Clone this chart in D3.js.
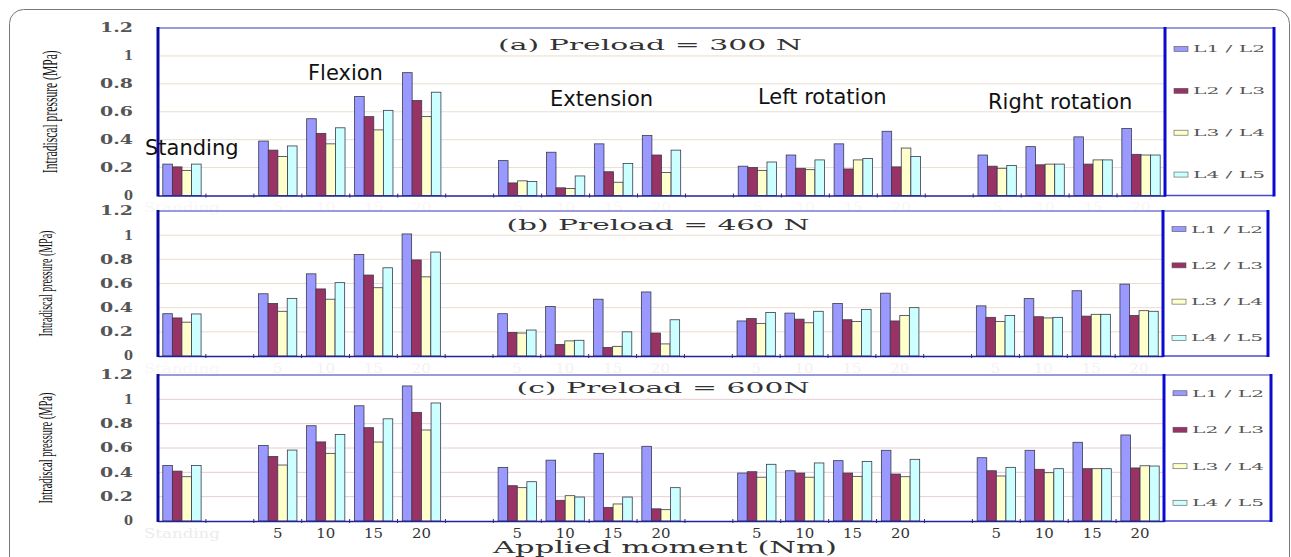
<!DOCTYPE html>
<html>
<head>
<meta charset="utf-8">
<script src="https://cdn.jsdelivr.net/npm/d3@7"></script>
<style>
  body { margin: 0; background: #fff; }
  svg { display: block; }
</style>
</head>
<body>
<div id="chart"></div>
<script>
// categories along the x axis ("" = empty slot between motions)
var categoryLabels = ["Standing", "", "5", "10", "15", "20", "", "5", "10", "15", "20", "", "5", "10", "15", "20", "", "5", "10", "15", "20"];
var seriesNames = ["L1 / L2", "L2 / L3", "L3 / L4", "L4 / L5"];
var seriesColors = ["#9999ff", "#993366", "#ffffcc", "#ccffff"];
var yTicks = [0, 0.2, 0.4, 0.6, 0.8, 1, 1.2];
var yTickLabels = ["0", "0.2", "0.4", "0.6", "0.8", "1", "1.2"];
var motionNames = ["Standing", "Flexion", "Extension", "Left rotation", "Right rotation"];

// (a) preload 300 N
var a_L1 = [0.225, null, 0.39, 0.55, 0.71, 0.88, null, 0.25, 0.31, 0.37, 0.43, null, 0.21, 0.29, 0.37, 0.46, null, 0.29, 0.35, 0.42, 0.48];
var a_L2 = [0.205, null, 0.325, 0.445, 0.565, 0.68, null, 0.09, 0.055, 0.17, 0.29, null, 0.20, 0.195, 0.19, 0.205, null, 0.21, 0.22, 0.225, 0.295];
var a_L3 = [0.18, null, 0.28, 0.37, 0.47, 0.565, null, 0.105, 0.05, 0.095, 0.165, null, 0.18, 0.185, 0.255, 0.34, null, 0.195, 0.225, 0.255, 0.29];
var a_L4 = [0.225, null, 0.355, 0.485, 0.61, 0.74, null, 0.10, 0.14, 0.23, 0.325, null, 0.24, 0.255, 0.265, 0.28, null, 0.215, 0.225, 0.255, 0.29];

// (b) preload 460 N
var b_L1 = [0.35, null, 0.515, 0.68, 0.84, 1.01, null, 0.35, 0.41, 0.47, 0.53, null, 0.29, 0.355, 0.435, 0.52, null, 0.415, 0.475, 0.54, 0.595];
var b_L2 = [0.315, null, 0.435, 0.555, 0.67, 0.795, null, 0.195, 0.095, 0.07, 0.19, null, 0.31, 0.305, 0.30, 0.29, null, 0.32, 0.325, 0.33, 0.335];
var b_L3 = [0.28, null, 0.37, 0.47, 0.565, 0.655, null, 0.19, 0.125, 0.08, 0.10, null, 0.27, 0.275, 0.285, 0.335, null, 0.285, 0.315, 0.345, 0.375];
var b_L4 = [0.348, null, 0.477, 0.607, 0.73, 0.86, null, 0.215, 0.13, 0.20, 0.30, null, 0.36, 0.37, 0.385, 0.40, null, 0.335, 0.32, 0.345, 0.37];

// (c) preload 600 N
var c_L1 = [0.457, null, 0.62, 0.783, 0.947, 1.11, null, 0.44, 0.50, 0.556, 0.614, null, 0.394, 0.413, 0.496, 0.581, null, 0.52, 0.581, 0.647, 0.707];
var c_L2 = [0.41, null, 0.53, 0.65, 0.767, 0.893, null, 0.29, 0.17, 0.112, 0.10, null, 0.405, 0.394, 0.394, 0.386, null, 0.413, 0.425, 0.43, 0.436];
var c_L3 = [0.364, null, 0.46, 0.556, 0.649, 0.748, null, 0.274, 0.208, 0.14, 0.093, null, 0.36, 0.36, 0.367, 0.364, null, 0.37, 0.397, 0.43, 0.454];
var c_L4 = [0.457, null, 0.583, 0.712, 0.84, 0.97, null, 0.323, 0.197, 0.197, 0.274, null, 0.466, 0.477, 0.49, 0.507, null, 0.441, 0.43, 0.43, 0.452];

var svgWidth = 1291, svgHeight = 557;

var svg = d3.select("#chart").append("svg")
  .attr("width", svgWidth)
  .attr("height", svgHeight);

svg.append("rect").attr("width", svgWidth).attr("height", svgHeight).attr("fill", "#fff");

// outer card with rounded corners
svg.append("rect")
  .attr("x", 9.5).attr("y", 9.5)
  .attr("width", 1280).attr("height", 620)
  .attr("rx", 14)
  .attr("fill", "none")
  .attr("stroke", "#777")
  .attr("stroke-width", 1);

// panel layout
var panels = [
  { series: [a_L1, a_L2, a_L3, a_L4], title: "(a) Preload = 300 N", top: 28, bottom: 195.5, right: 1165, legendRight: 1274,
    titleX: 650, titleY: 50, titleLen: 304, grid: "#eadfcf", labelX: 51, labelLen: 123, labelSize: 20, tickColor: "#f7f7f7", firstTickColor: "#f7f7f7" },
  { series: [b_L1, b_L2, b_L3, b_L4], title: "(b) Preload = 460 N", top: 211, bottom: 356, right: 1163, legendRight: 1268,
    titleX: 658, titleY: 230, titleLen: 303, grid: "#ecdccc", labelX: 46, labelLen: 106, labelSize: 19, tickColor: "#f2f2f2", firstTickColor: "#f7f7f7" },
  { series: [c_L1, c_L2, c_L3, c_L4], title: "(c) Preload = 600N", top: 375, bottom: 521, right: 1164, legendRight: 1271,
    titleX: 663, titleY: 393, titleLen: 293, grid: "#e8cdd3", labelX: 46, labelLen: 111, labelSize: 19, tickColor: "#333", firstTickColor: "#ececec" }
];

var left = 158;

panels.forEach(function(p) {
  var g = svg.append("g");
  var h = p.bottom - p.top;

  var xScale = d3.scaleBand()
    .domain(d3.range(categoryLabels.length))
    .range([left, p.right])
    .paddingInner(0.2)
    .paddingOuter(0.1);

  var xInner = d3.scaleBand()
    .domain(d3.range(seriesNames.length))
    .range([0, xScale.bandwidth()]);

  var yScale = d3.scaleLinear()
    .domain([0, 1.2])
    .range([p.bottom, p.top]);

  // gridlines
  g.append("g")
    .selectAll("line")
    .data(yTicks.slice(1, -1))
    .enter().append("line")
    .attr("x1", left).attr("x2", p.right)
    .attr("y1", d => yScale(d)).attr("y2", d => yScale(d))
    .attr("stroke", p.grid)
    .attr("stroke-width", 1);

  // y axis tick labels
  var yAxis = d3.axisLeft(yScale)
    .tickValues(yTicks)
    .tickFormat((d, i) => yTickLabels[i])
    .tickSize(0)
    .tickPadding(25);

  var yG = g.append("g")
    .attr("transform", `translate(${left}, 0)`)
    .call(yAxis);
  yG.select(".domain").remove();
  yG.selectAll("text")
    .attr("font-family", "DejaVu Serif")
    .attr("font-size", 12)
    .attr("font-weight", "bold")
    .attr("fill", "#555")
    .attr("textLength", (d, i) => yTickLabels[i].length === 1 ? 9 : 33)
    .attr("lengthAdjust", "spacingAndGlyphs");

  // bars
  p.series.forEach(function(values, s) {
    g.append("g")
      .selectAll("rect")
      .data(values.map((v, i) => ({ i: i, v: v })).filter(d => d.v !== null))
      .enter().append("rect")
      .attr("x", d => xScale(d.i) + xInner(s))
      .attr("y", d => yScale(d.v))
      .attr("width", xInner.bandwidth())
      .attr("height", d => p.bottom - yScale(d.v))
      .attr("fill", seriesColors[s])
      .attr("stroke", "#3a3a4a")
      .attr("stroke-width", 0.8);
  });

  // category boundary ticks
  g.append("g")
    .selectAll("line")
    .data(d3.range(1, categoryLabels.length))
    .enter().append("line")
    .attr("x1", d => left + d * xScale.step())
    .attr("x2", d => left + d * xScale.step())
    .attr("y1", p.bottom - 2).attr("y2", p.bottom + 2)
    .attr("stroke", "#333")
    .attr("stroke-width", 1);

  // x axis
  var xAxis = d3.axisBottom(xScale)
    .tickFormat(i => categoryLabels[i])
    .tickSize(0)
    .tickPadding(8);

  var xG = g.append("g")
    .attr("transform", `translate(0, ${p.bottom})`)
    .call(xAxis);
  xG.select(".domain")
    .attr("stroke", "#22229a")
    .attr("stroke-width", 1.6);
  xG.selectAll("text")
    .attr("font-family", "DejaVu Serif")
    .attr("font-size", 12)
    .attr("fill", (d, i) => i === 0 ? p.firstTickColor : p.tickColor)
    .attr("textLength", (d, i) => categoryLabels[i].length ? categoryLabels[i].length * 9.5 : null)
    .attr("lengthAdjust", "spacingAndGlyphs");

  // plot frame: thin top, thick left
  g.append("line")
    .attr("x1", left).attr("x2", p.legendRight)
    .attr("y1", p.top).attr("y2", p.top)
    .attr("stroke", "#7a7ad0").attr("stroke-width", 1.5);
  g.append("line")
    .attr("x1", left).attr("x2", left)
    .attr("y1", p.top - 1).attr("y2", p.bottom + 1)
    .attr("stroke", "#0a0aa0").attr("stroke-width", 3);

  // legend box
  g.append("line")
    .attr("x1", p.right).attr("x2", p.legendRight)
    .attr("y1", p.bottom).attr("y2", p.bottom)
    .attr("stroke", "#4848d0").attr("stroke-width", 1.5);
  g.append("line")
    .attr("x1", p.right).attr("x2", p.right)
    .attr("y1", p.top - 1).attr("y2", p.bottom + 1)
    .attr("stroke", "#0a0ad0").attr("stroke-width", 3);
  g.append("line")
    .attr("x1", p.legendRight).attr("x2", p.legendRight)
    .attr("y1", p.top - 1).attr("y2", p.bottom + 1)
    .attr("stroke", "#0a0ad0").attr("stroke-width", 3);

  var legend = g.append("g")
    .selectAll("g")
    .data(seriesNames)
    .enter().append("g")
    .attr("transform", (d, i) => `translate(${p.right + 9}, ${p.top + h * (i + 0.5) / 4})`);
  legend.append("rect")
    .attr("x", 0).attr("y", -2.5)
    .attr("width", 14).attr("height", 5)
    .attr("fill", (d, i) => seriesColors[i])
    .attr("stroke", "#555").attr("stroke-width", 0.6);
  legend.append("text")
    .attr("x", 19).attr("y", 3.5)
    .attr("font-family", "DejaVu Serif")
    .attr("font-size", 10)
    .attr("fill", "#555")
    .attr("textLength", 72)
    .attr("lengthAdjust", "spacingAndGlyphs")
    .text(d => d);

  // panel title
  g.append("text")
    .attr("x", p.titleX).attr("y", p.titleY)
    .attr("text-anchor", "middle")
    .attr("font-family", "DejaVu Serif")
    .attr("font-size", 15)
    .attr("fill", "#333")
    .attr("textLength", p.titleLen)
    .attr("lengthAdjust", "spacingAndGlyphs")
    .text(p.title);

  // y axis label, squeezed to a condensed look with a scale transform
  var yLabel = g.append("text")
    .attr("text-anchor", "middle")
    .attr("font-family", "Liberation Serif")
    .attr("font-size", p.labelSize)
    .attr("fill", "#111")
    .text("Intradiscal pressure (MPa)");
  var natural = yLabel.node().getComputedTextLength();
  yLabel.attr("transform",
    `translate(${p.labelX + 6}, ${(p.top + p.bottom) / 2}) rotate(-90) scale(${p.labelLen / natural}, 1)`);
});

// motion names in the top panel
var motionPos = [[145, 155], [308, 80], [550, 106], [758, 104], [988, 109]];
svg.append("g")
  .selectAll("text")
  .data(motionNames)
  .enter().append("text")
  .attr("x", (d, i) => motionPos[i][0])
  .attr("y", (d, i) => motionPos[i][1])
  .attr("font-family", "DejaVu Sans")
  .attr("font-size", 21)
  .attr("fill", "#111")
  .text(d => d);

// x axis title
svg.append("text")
  .attr("x", 665).attr("y", 553)
  .attr("text-anchor", "middle")
  .attr("font-family", "DejaVu Serif")
  .attr("font-size", 16)
  .attr("fill", "#333")
  .attr("textLength", 344)
  .attr("lengthAdjust", "spacingAndGlyphs")
  .text("Applied moment (Nm)");
</script>
</body>
</html>
